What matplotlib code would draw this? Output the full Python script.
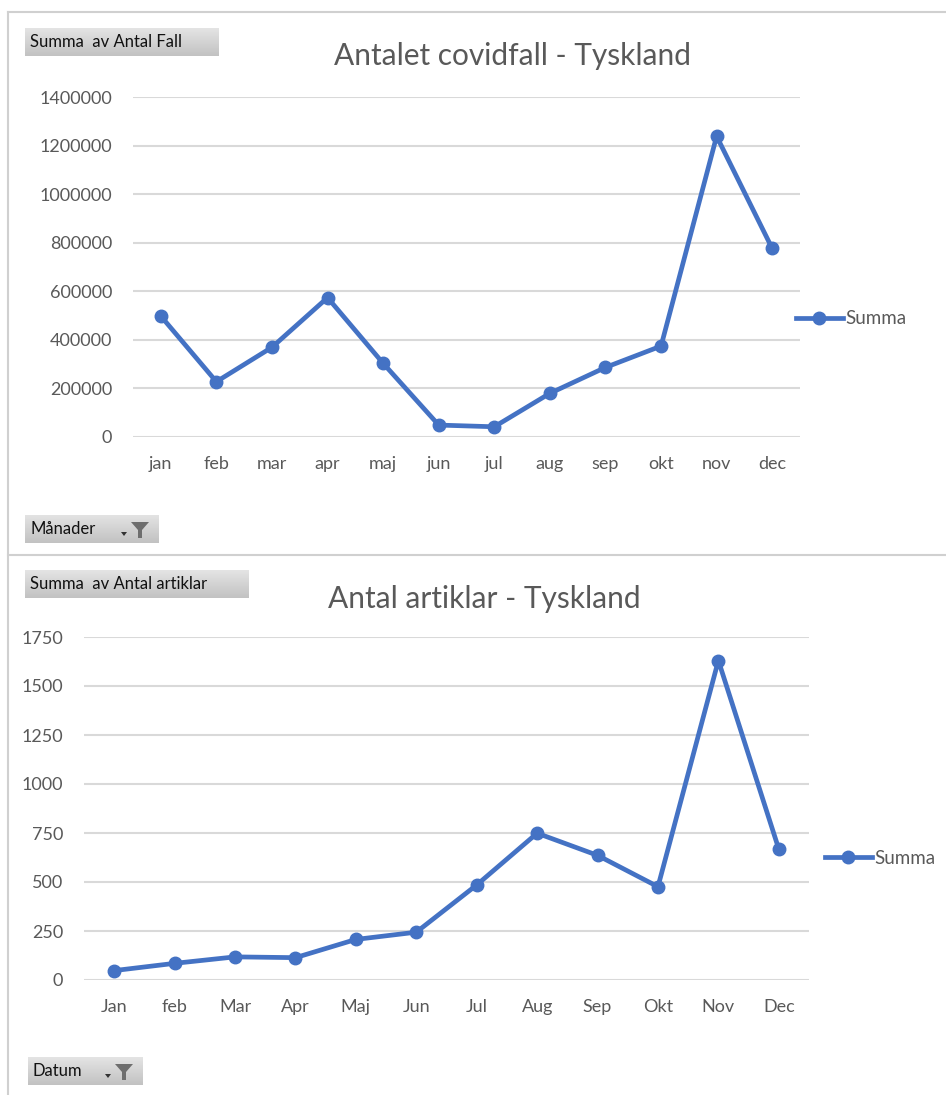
import numpy as np
import matplotlib.pyplot as plt
from matplotlib.patches import Rectangle, Polygon
from matplotlib.lines import Line2D

plt.rcParams['font.family'] = ['Lato', 'DejaVu Sans']

W, H = 946, 1095

# data
manader = ['jan', 'feb', 'mar', 'apr', 'maj', 'jun', 'jul', 'aug', 'sep', 'okt', 'nov', 'dec']
antal_fall = [498000, 227000, 369000, 574000, 303000, 48000, 41000, 179000, 286000, 374000, 1240000, 777000]
fall_ticks = [0, 200000, 400000, 600000, 800000, 1000000, 1200000, 1400000]

datum = ['Jan', 'feb', 'Mar', 'Apr', 'Maj', 'Jun', 'Jul', 'Aug', 'Sep', 'Okt', 'Nov', 'Dec']
antal_artiklar = [48, 85, 118, 114, 207, 244, 485, 749, 636, 476, 1630, 668]
artikel_ticks = [0, 250, 500, 750, 1000, 1250, 1500, 1750]

blue = '#4472C4'
grey_txt = '#595959'
grid_c = '#D9D9D9'


def rect(x0, y0, x1, y1):
    # pixel box (top-left origin) -> figure fraction
    return [x0 / W, 1 - y1 / H, (x1 - x0) / W, (y1 - y0) / H]


def fx(x):
    return x / W


def fy(y):
    return 1 - y / H


fig = plt.figure(figsize=(W / 100, H / 100), dpi=100)

# panel borders (Excel sheet look)
for xs, ys in [((8, 946), (12, 12)), ((8, 8), (12, 1095)), ((8, 946), (555, 555))]:
    fig.add_artist(Line2D([fx(xs[0]), fx(xs[1])], [fy(ys[0]), fy(ys[1])],
                          color='#D0D0D0', lw=1.5))


def field_button(x0, y0, x1, y1, label, funnel=False):
    # vertical grey gradient like the Excel pivot field buttons
    bax = fig.add_axes(rect(x0, y0, x1, y1))
    grad = np.linspace(0, 1, 32).reshape(-1, 1)
    bax.imshow(grad, cmap=plt.matplotlib.colors.LinearSegmentedColormap.from_list(
        'btn', ['#E4E4E4', '#C2C2C2']), aspect='auto', extent=(0, 1, 0, 1), origin='upper')
    bax.set_axis_off()
    fig.text(fx(x0 + 5), fy((y0 + y1) / 2), label, ha='left', va='center',
             fontsize=12, color='#111111')
    if funnel:
        cx = x1 - 18
        fig.add_artist(Polygon([(fx(cx - 9), fy(y0 + 7)), (fx(cx + 9), fy(y0 + 7)),
                                (fx(cx + 2), fy(y0 + 15)), (fx(cx + 2), fy(y1 - 5)),
                                (fx(cx - 2), fy(y1 - 5)), (fx(cx - 2), fy(y0 + 15))],
                               closed=True, transform=fig.transFigure,
                               facecolor='#6E6E6E', edgecolor='none', zorder=5))
        ax0 = x1 - 34
        fig.add_artist(Polygon([(fx(ax0 - 3), fy(y1 - 11)), (fx(ax0 + 3), fy(y1 - 11)),
                                (fx(ax0), fy(y1 - 7))], closed=True,
                               transform=fig.transFigure, facecolor='#333333',
                               edgecolor='none', zorder=5))


def line_chart(box, cats, vals, ticks, title, title_xy, leg_xy, title_size):
    ax = fig.add_axes(rect(*box))
    x = np.arange(len(cats))
    ax.plot(x, vals, color=blue, lw=3.4, marker='o', markersize=9,
            solid_joinstyle='round', label='Summa', zorder=3)
    ax.set_xlim(-0.5, len(cats) - 0.5)
    ax.set_ylim(ticks[0], ticks[-1])
    ax.set_yticks(ticks)
    ax.set_yticklabels([str(t) for t in ticks])
    ax.set_xticks(x)
    ax.set_xticklabels(cats)
    ax.grid(axis='y', color=grid_c, lw=1.5)
    ax.set_axisbelow(True)
    for s in ax.spines.values():
        s.set_visible(False)
    ax.tick_params(axis='both', length=0, labelsize=13, colors=grey_txt)
    ax.tick_params(axis='y', pad=15)
    ax.tick_params(axis='x', pad=14)
    fig.text(fx(title_xy[0]), fy(title_xy[1]), title, ha='center', va='center',
             fontsize=title_size, color=grey_txt)
    ax.legend(loc='center left', bbox_to_anchor=(fx(leg_xy[0]), fy(leg_xy[1])),
              bbox_transform=fig.transFigure, frameon=False, fontsize=13.5,
              labelcolor=grey_txt, handlelength=2.5, handletextpad=0.15,
              borderpad=0, borderaxespad=0)
    return ax


field_button(25, 28, 218, 56, 'Summa  av Antal Fall')
line_chart((133, 97.5, 800, 436.7), manader, antal_fall, fall_ticks,
           'Antalet covidfall - Tyskland', (512, 56), (796, 319), 21.5)
field_button(25, 515, 158, 543, 'Månader', funnel=True)

field_button(25, 570, 249, 598, 'Summa  av Antal artiklar')
line_chart((84, 637, 809, 980), datum, antal_artiklar, artikel_ticks,
           'Antal artiklar - Tyskland', (484, 599), (825, 858), 21.5)
field_button(28, 1057, 142, 1085, 'Datum', funnel=True)

plt.savefig('out.png', dpi=100)
